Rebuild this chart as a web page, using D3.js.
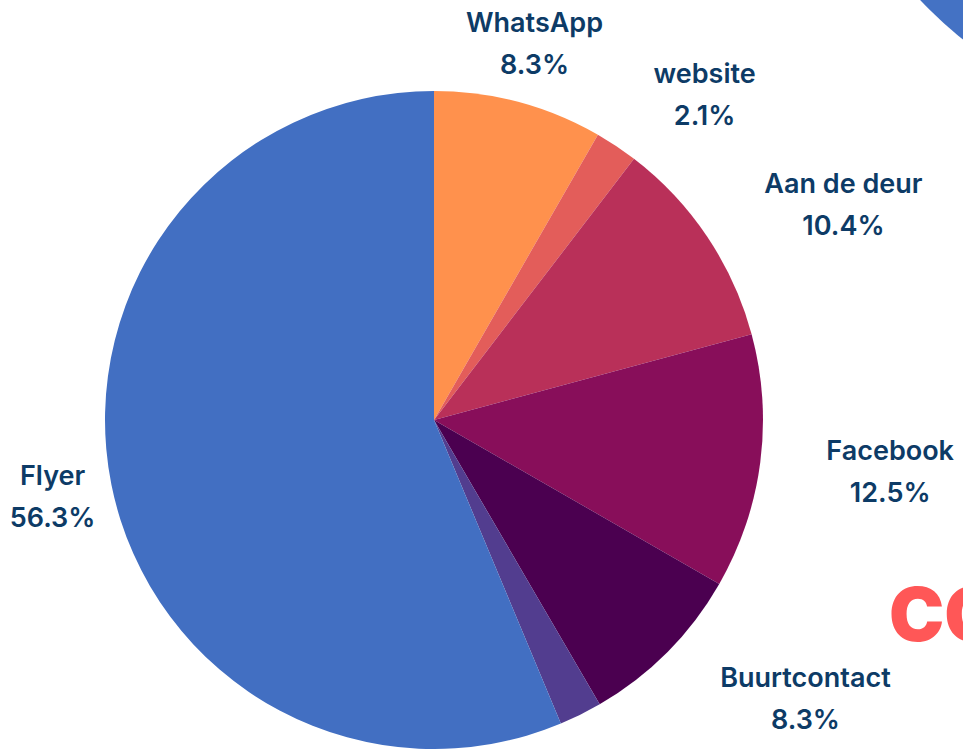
<!DOCTYPE html>
<html>
<head>
<meta charset="utf-8">
<script src="https://cdn.jsdelivr.net/npm/d3@7"></script>
<style>
  html, body { margin: 0; padding: 0; background: #fff; overflow: hidden; }
  svg { display: block; }
</style>
</head>
<body>
<svg id="chart" width="963" height="749"></svg>
<script>
// slice data, clockwise from 12 o'clock
const categories = ["WhatsApp", "website", "Aan de deur", "Facebook", "Buurtcontact", "Overig", "Flyer"];
const values = [8.3, 2.1, 10.4, 12.5, 8.3, 2.1, 56.3];
const labels = ["8.3%", "2.1%", "10.4%", "12.5%", "8.3%", null, "56.3%"];
const colors = ["#ff914d", "#e35d5a", "#b93059", "#880e5a", "#4b0050", "#523d8f", "#426fc2"];

const width = 963;
const height = 749;
const cx = 434, cy = 420, radius = 329;

const svg = d3.select("#chart");

// decoration: blue circle peeking in top-right corner
svg.append("circle")
    .attr("cx", 1200)
    .attr("cy", -260)
    .attr("r", 382)
    .attr("fill", "#4472c4");

// decoration: red text cut off at right edge
svg.append("text")
    .attr("x", 889)
    .attr("y", 641)
    .attr("font-family", "Inter, 'DejaVu Sans', sans-serif")
    .attr("font-weight", 900)
    .attr("font-size", 74)
    .attr("fill", "#ff5757")
    .text("CO");

const pie = d3.pie().sort(null).value(d => d);
const arcs = pie(values);

const arc = d3.arc().innerRadius(0).outerRadius(radius);

const g = svg.append("g").attr("transform", `translate(${cx},${cy})`);

g.selectAll("path")
    .data(arcs)
    .join("path")
    .attr("d", arc)
    .attr("fill", (d, i) => colors[i]);

// label radius and angle nudge (degrees) per slice
const labelLayout = [
    [390, 0], [424, 6], [463, 6], [459, -1], [464, -8], [0, 0], [389, 0]
];

const label = g.selectAll("g.label")
    .data(arcs.filter((d, i) => labels[i] !== null))
    .join("g")
    .attr("class", "label")
    .attr("transform", d => {
        const [r, nudge] = labelLayout[d.index];
        const a = (d.startAngle + d.endAngle) / 2 + nudge * Math.PI / 180;
        return `translate(${r * Math.sin(a)},${-r * Math.cos(a)})`;
    });

label.append("text")
    .attr("text-anchor", "middle")
    .attr("y", -11)
    .attr("font-family", "Inter, 'Open Sans', sans-serif")
    .attr("font-weight", 600)
    .attr("font-size", 27)
    .attr("fill", "#0d3b66")
    .text(d => categories[d.index]);

label.append("text")
    .attr("text-anchor", "middle")
    .attr("y", 31)
    .attr("font-family", "Inter, 'Open Sans', sans-serif")
    .attr("font-weight", 600)
    .attr("font-size", 27)
    .attr("fill", "#0d3b66")
    .text(d => labels[d.index]);
</script>
</body>
</html>
